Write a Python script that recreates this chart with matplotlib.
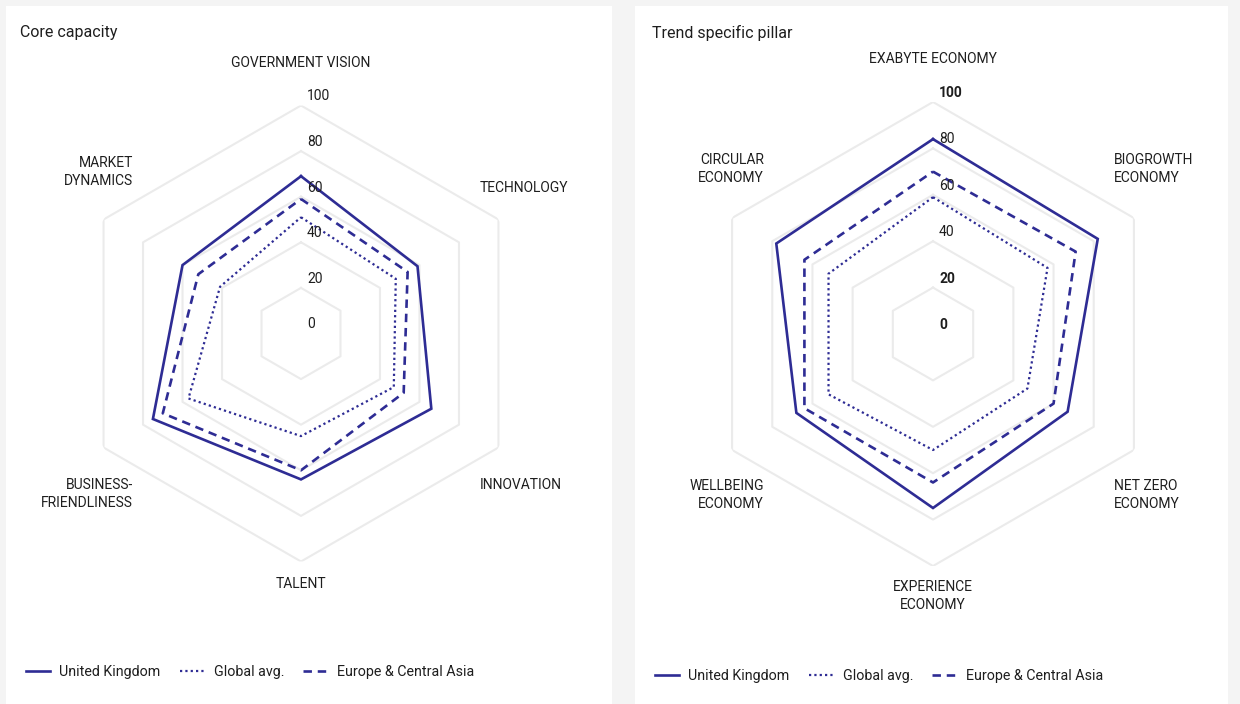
import numpy as np
import matplotlib.pyplot as plt
from matplotlib.patches import Rectangle

plt.rcParams['font.family'] = ['Roboto', 'DejaVu Sans']

W, H = 1240, 704

# data
core_labels = ['GOVERNMENT VISION', 'TECHNOLOGY', 'INNOVATION', 'TALENT',
               'BUSINESS-\nFRIENDLINESS', 'MARKET\nDYNAMICS']
uk_core = [69, 59, 66, 64, 75, 60]
global_core = [51, 48, 47, 45, 57, 41]
eca_core = [59, 54, 52, 60, 70, 52]

trend_labels = ['EXABYTE ECONOMY', 'BIOGROWTH\nECONOMY', 'NET ZERO\nECONOMY',
                'EXPERIENCE\nECONOMY', 'WELLBEING\nECONOMY', 'CIRCULAR\nECONOMY']
uk_trend = [84, 82, 67, 75, 68, 78]
global_trend = [59, 57, 47, 50, 52, 52]
eca_trend = [70, 71, 60, 64, 64, 64]

levels = [20, 40, 60, 80, 100]
tick_labels = ['0', '20', '40', '60', '80', '100']
series_names = ['United Kingdom', 'Global avg.', 'Europe & Central Asia']

navy = '#2e2c94'
grid_c = '#ebebeb'
txt_c = '#1e1e1e'


def fx(x):
    return x / W


def fy(y):
    return 1 - y / H


fig = plt.figure(figsize=(12.4, 7.04), dpi=100)
fig.patch.set_facecolor('#f4f4f4')

# white panels
for x0, x1 in [(6, 612), (635, 1228)]:
    fig.add_artist(Rectangle((fx(x0), 0), fx(x1) - fx(x0), fy(6),
                             transform=fig.transFigure, facecolor='white',
                             edgecolor='none', zorder=0))


def radar(cx, cy, R, values, bold_ticks):
    ax = fig.add_axes([fx(cx - R), fy(cy + R), 2 * R / W, 2 * R / H],
                      projection='polar')
    ax.set_theta_offset(np.pi / 2)
    ax.set_theta_direction(-1)
    ax.axis('off')
    ang = np.linspace(0, 2 * np.pi, 6, endpoint=False)
    ang_c = np.append(ang, ang[0])
    for lvl in levels:
        ax.plot(ang_c, [lvl] * 7, color=grid_c, lw=1.5, zorder=1)
    uk, gl, eca = values
    h1, = ax.plot(ang_c, uk + uk[:1], color=navy, lw=1.9, zorder=3,
                  solid_joinstyle='miter')
    h2, = ax.plot(ang_c, gl + gl[:1], color=navy, lw=1.6, ls=(0, (1, 1.4)),
                  zorder=3)
    h3, = ax.plot(ang_c, eca + eca[:1], color=navy, lw=1.9, ls=(0, (3.2, 2.2)),
                  zorder=3)
    ax.set_ylim(0, 100)
    for i, t in enumerate(tick_labels):
        ax.annotate(t, xy=(0, i * 20), xytext=(6, 9), textcoords='offset pixels',
                    ha='left', va='center', fontsize=10, color=txt_c,
                    fontweight='bold' if t in bold_ticks else 'normal')
    return ax, [h1, h2, h3]


ax1, handles1 = radar(301, 333.5, 228, [uk_core, global_core, eca_core], [])
ax2, handles2 = radar(933, 334, 232, [uk_trend, global_trend, eca_trend],
                      ['100', '20', '0'])

# titles
fig.text(fx(20), fy(33), 'Core capacity', fontsize=11.5, color=txt_c,
         ha='left', va='center')
fig.text(fx(652), fy(33), 'Trend specific pillar', fontsize=11.5, color=txt_c,
         ha='left', va='center')

# category labels: (x, y, ha)
core_pos = [(301, 63, 'center'), (480, 188, 'left'), (480, 485, 'left'),
            (301, 584, 'center'), (133, 494, 'right'), (133, 172, 'right')]
trend_pos = [(933, 59, 'center'), (1114, 169, 'left'), (1114, 495, 'left'),
             (933, 596, 'center'), (764, 495, 'right'), (764, 169, 'right')]
for labels, pos in [(core_labels, core_pos), (trend_labels, trend_pos)]:
    for lab, (x, y, ha) in zip(labels, pos):
        fig.text(fx(x), fy(y), lab, fontsize=10, color=txt_c, ha=ha,
                 va='center', multialignment=ha, linespacing=1.45)

# legends
for ax, handles, x, y in [(ax1, handles1, 20, 672), (ax2, handles2, 649, 676)]:
    ax.legend(handles, series_names, loc='center left',
              bbox_to_anchor=(fx(x), fy(y)), bbox_transform=fig.transFigure,
              ncol=3, frameon=False, fontsize=10.3, handlelength=1.7,
              handletextpad=0.65, columnspacing=1.35, borderaxespad=0,
              labelcolor=txt_c)

fig.savefig('out.png', dpi=100, facecolor=fig.get_facecolor())
